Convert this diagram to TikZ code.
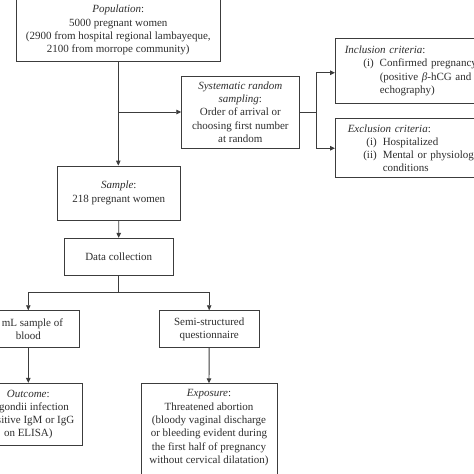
\documentclass[tikz,border=0pt]{standalone}
\usepackage{fontspec}
\setmainfont{Liberation Serif}
\usetikzlibrary{arrows.meta}
\definecolor{linec}{HTML}{3C3C3C}
\definecolor{textc}{HTML}{2E2E2E}
\begin{document}
\begin{tikzpicture}[x=1pt,y=-1pt,
  box/.style={draw=linec, line width=0.9pt, inner sep=0pt, align=center, text=textc, font=\fontsize{11}{13.3}\selectfont},
  plain/.style={inner sep=0pt, align=center, text=textc, font=\fontsize{11}{13.3}\selectfont},
  conn/.style={draw=linec, line width=0.9pt},
  arr/.style={conn, -{Triangle[length=5pt,width=4.5pt]}}]
\useasboundingbox (0,0) rectangle (474,474);
\clip (0,0) rectangle (474,474);
\fill[white] (0,0) rectangle (474,474);

\node[box, minimum width=204.7pt, minimum height=62.7pt] (pop) at (118.3,30.3)
  {\textit{Population}:\\5000 pregnant women\\(2900 from hospital regional lambayeque,\\2100 from morrope community)};
\node[box, minimum width=117.3pt, minimum height=72pt] (sys) at (240.35,112)
  {\textit{Systematic random}\\\textit{sampling}:\\Order of arrival or\\choosing first number\\at random};
\node[box, anchor=north west, align=left, text width=180pt, inner xsep=9.3pt, minimum height=64.4pt] (incl) at (335,38.3)
  {\textit{Inclusion criteria}:\\
   \makebox[29pt][r]{(i)}\hspace{6pt}Confirmed pregnancy\\
   \hspace*{35pt}(positive \textit{β}-hCG and\\
   \hspace*{35pt}echography)};
\node[box, anchor=north west, align=left, text width=180pt, inner xsep=12.3pt, minimum height=59pt] (excl) at (335,118.3)
  {\textit{Exclusion criteria}:\\
   \makebox[29pt][r]{(i)}\hspace{6pt}Hospitalized\\
   \makebox[29pt][r]{(ii)}\hspace{6pt}Mental or physiological\\
   \hspace*{35pt}conditions};
\node[box, minimum width=122.3pt, minimum height=54pt] (sample) at (118.8,193)
  {\textit{Sample}:\\218 pregnant women};
\node[box, minimum width=109.3pt, minimum height=36.7pt] (data) at (118.7,256.7)
  {Data collection};
\node[box, minimum width=101.4pt, minimum height=36.6pt] (blood) at (28.3,329)
  {5 mL sample of\\blood};
\node[box, minimum width=99.7pt, minimum height=36.6pt] (semi) at (209.2,329)
  {Semi-structured\\questionnaire};
\node[box, minimum width=108pt, minimum height=62.4pt] (outcome) at (28.3,414.5)
  {\textit{Outcome}:\\T. gondii infection\\(positive IgM or IgG\\on ELISA)};
\node[box, anchor=north, minimum width=136pt, minimum height=110pt] (expo) at (209,383.3) {};
\node[plain, anchor=north] (expotext) at (209,389.5)
  {\textit{Exposure}:\\Threatened abortion\\(bloody vaginal discharge\\or bleeding evident during\\the first half of pregnancy\\without cervical dilatation)};

\draw[arr] (pop.south) -- (pop.south |- sample.north);
\coordinate (b1) at (pop.south |- sys.west);
\draw[arr] (b1) -- (sys.west);
\coordinate (f1) at (316.7,112);
\draw[conn] (sys.east) -- (f1);
\draw[arr] (f1) |- ([yshift=-1.8pt]incl.west);
\draw[arr] (f1) |- (excl.west);
\draw[arr] (sample.south) -- (data.north);
\coordinate (s1) at (118.7,292.7);
\draw[conn] (data.south) -- (s1);
\draw[arr] (s1) -| (blood.north);
\draw[arr] (s1) -| (semi.north);
\draw[arr] (blood.south) -- (outcome.north);
\draw[arr] (semi.south) -- (expo.north);
\end{tikzpicture}
\end{document}
